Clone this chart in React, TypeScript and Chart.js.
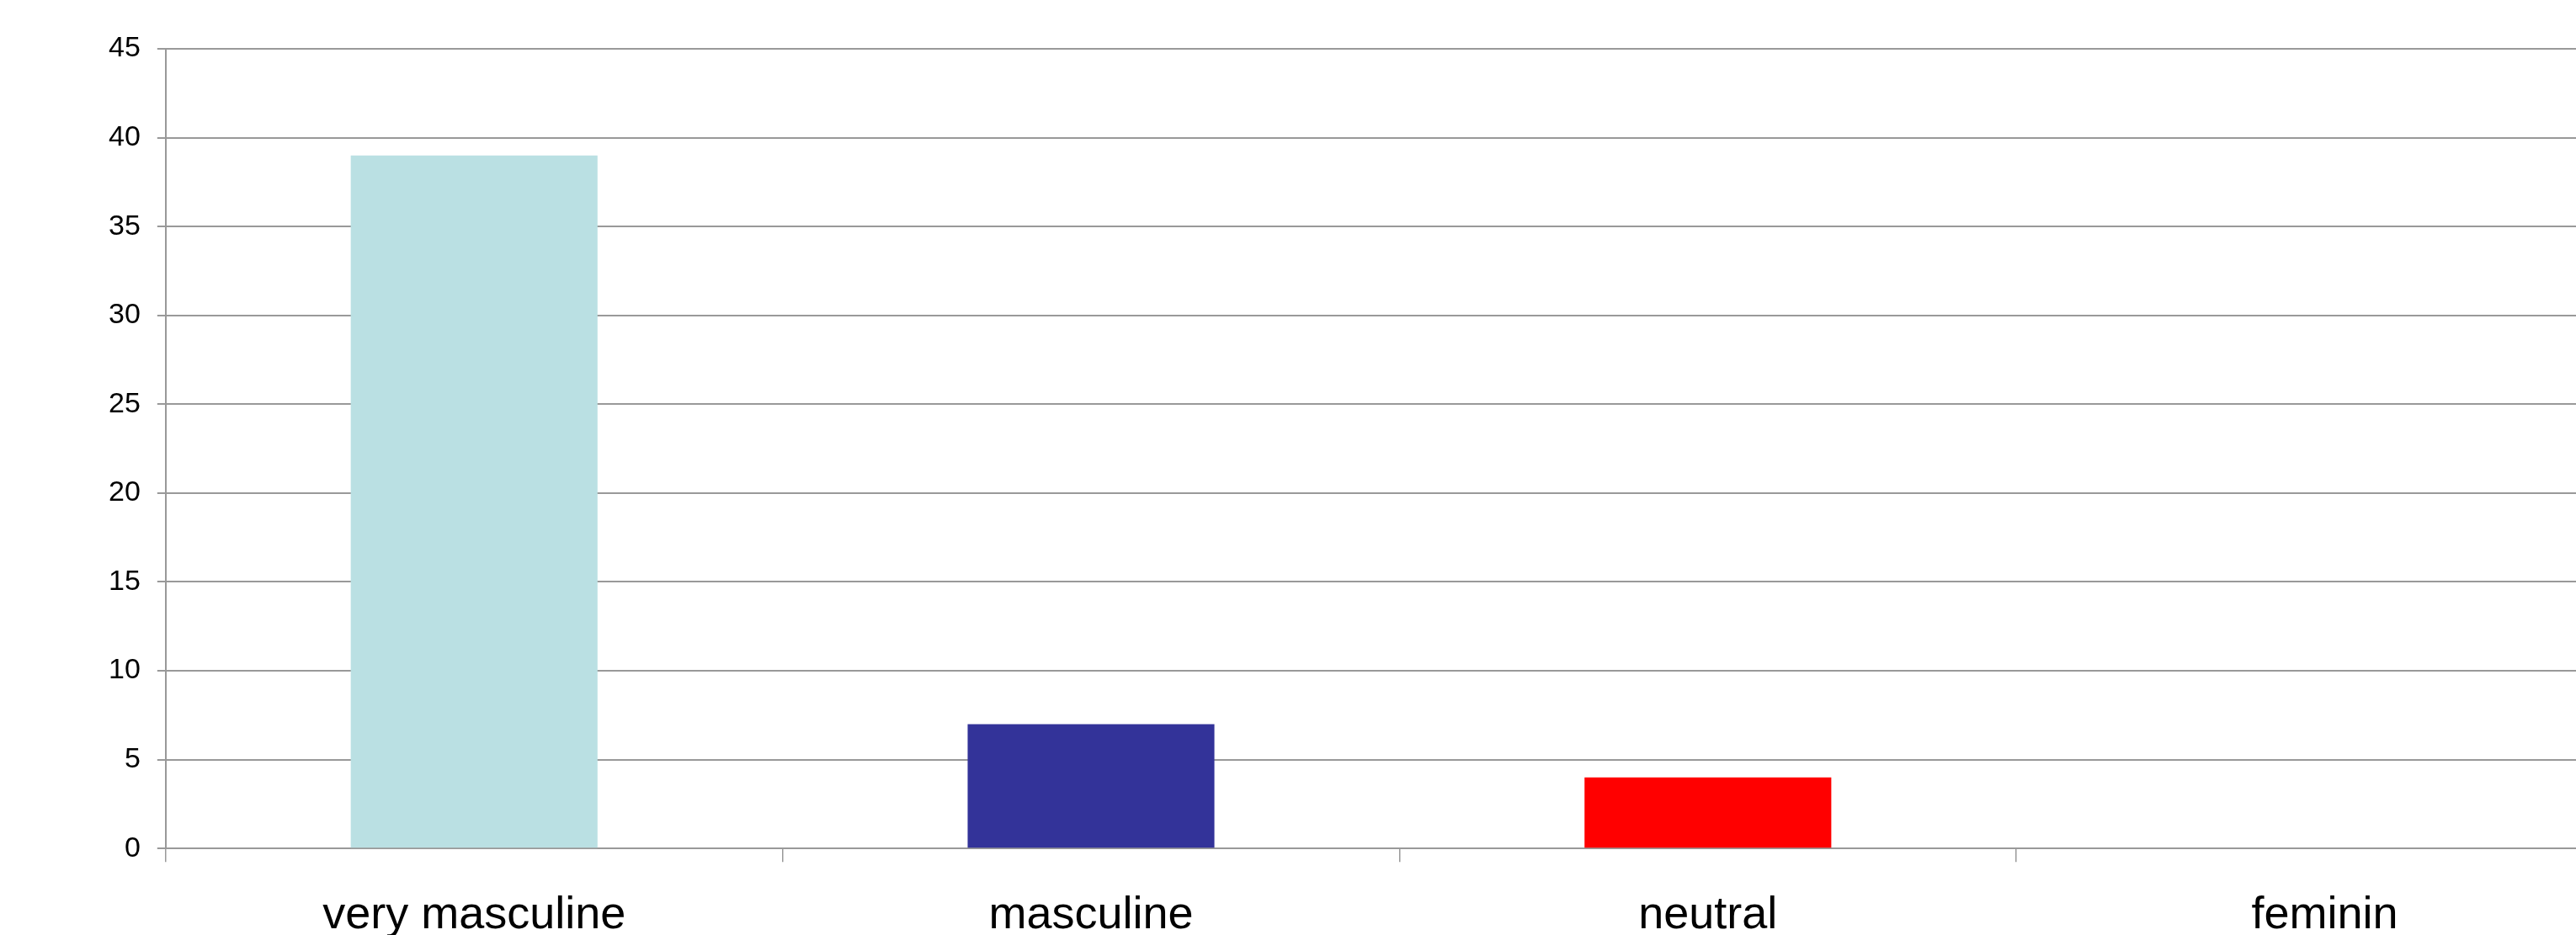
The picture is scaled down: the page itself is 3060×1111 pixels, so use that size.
import React, { useEffect, useRef } from "react";
import { Chart, registerables } from "chart.js";

Chart.register(...registerables);

const categories = ["very masculine", "masculine", "neutral", "feminin"];
const values = [39, 7, 4, 0];
const barColors = ["#BAE0E3", "#333399", "#FF0000", "#FFFF99"];
const yTicks = [0, 5, 10, 15, 20, 25, 30, 35, 40, 45];

export default function App() {
  const ref = useRef<HTMLCanvasElement | null>(null);

  useEffect(() => {
    const canvas = ref.current;
    if (!canvas) return;
    const grey = "#999999";
    const chart = new Chart(canvas, {
      type: "bar",
      data: {
        labels: categories,
        datasets: [
          {
            data: values,
            backgroundColor: barColors,
            borderWidth: 0,
            categoryPercentage: 1,
            barPercentage: 0.4,
          },
        ],
      },
      options: {
        animation: false,
        responsive: false,
        devicePixelRatio: 1,
        layout: { padding: { top: 58, left: 109, right: 2, bottom: 0 } },
        plugins: { legend: { display: false }, tooltip: { enabled: false } },
        scales: {
          x: {
            grid: {
              display: true,
              drawOnChartArea: false,
              drawTicks: true,
              tickLength: 16,
              color: grey,
              lineWidth: 1.5,
              offset: true,
            },
            border: { display: true, color: grey, width: 2 },
            ticks: {
              color: "#000",
              padding: 32,
              font: { family: "'Liberation Sans', Arial, sans-serif", size: 54 },
              maxRotation: 0,
              autoSkip: false,
            },
          },
          y: {
            min: 0,
            max: 45,
            afterBuildTicks: (axis: any) => {
              axis.ticks = yTicks.map((v) => ({ value: v }));
            },
            grid: {
              color: grey,
              lineWidth: 2,
              tickLength: 10,
              drawTicks: true,
            },
            border: { display: true, color: grey, width: 2 },
            ticks: {
              color: "#000",
              padding: 20,
              font: { family: "'Liberation Sans', Arial, sans-serif", size: 34 },
            },
          },
        },
      },
    });
    return () => chart.destroy();
  }, []);

  return (
    <div
      style={{
        position: "fixed",
        left: 0,
        top: 0,
        width: "100vw",
        height: "100vh",
        overflow: "hidden",
        background: "#fff",
      }}
    >
      <canvas ref={ref} width={3130} height={1153} style={{ display: "block" }} />
    </div>
  );
}
